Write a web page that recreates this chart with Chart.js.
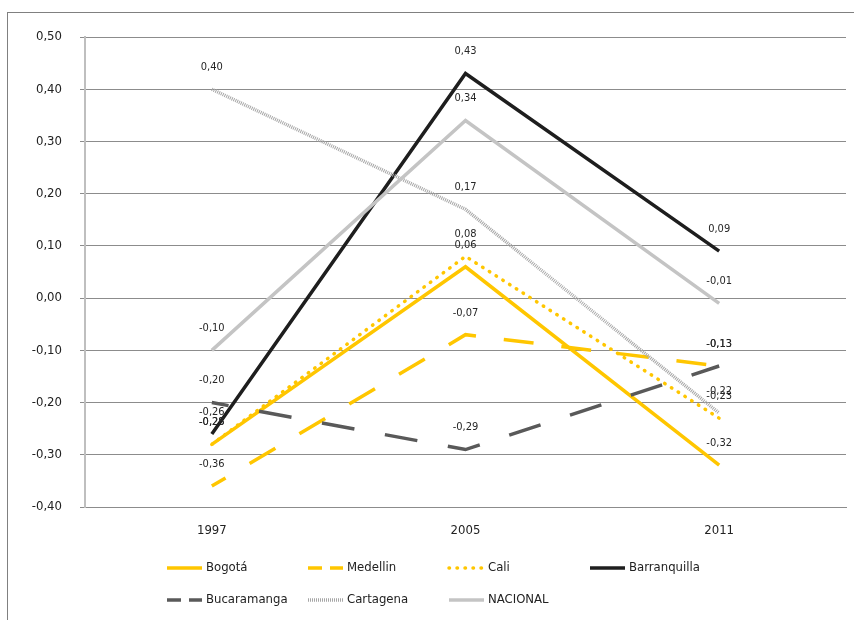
<!DOCTYPE html>
<html>
<head>
<meta charset="utf-8">
<script src="https://cdn.jsdelivr.net/npm/chart.js@4.4.1/dist/chart.umd.min.js"></script>
<style>
  body { margin: 0; background: #fff; }
  #wrap { position: relative; width: 854px; height: 620px; overflow: hidden; background: #fff; }
  #frame { position: absolute; left: 7px; top: 12px; right: -10px; bottom: -10px;
           border-left: 1px solid #808080; border-top: 1px solid #808080; }
  #grafico { position: absolute; left: 0; top: 0; }
</style>
</head>
<body>
<div id="wrap">
  <div id="frame"></div>
  <canvas id="grafico" width="854" height="620"></canvas>
</div>
<script>
// datos
const years = ['1997', '2005', '2011'];
const seriesNames = ['Bogotá', 'Medellin', 'Cali', 'Barranquilla', 'Bucaramanga', 'Cartagena', 'NACIONAL'];
const bogota = [-0.28, 0.06, -0.32];
const medellin = [-0.36, -0.07, -0.13];
const cali = [-0.28, 0.08, -0.23];
const barranquilla = [-0.26, 0.43, 0.09];
const bucaramanga = [-0.20, -0.29, -0.13];
const cartagena = [0.40, 0.17, -0.22];
const nacional = [-0.10, 0.34, -0.01];

const FONT = '"Liberation Sans Narrow", "DejaVu Sans Condensed", "Roboto", sans-serif';

function fmt(v) {
    return v.toFixed(2).replace('.', ',');
}

// etiquetas de valor encima de cada punto
const valueLabels = {
    id: 'valueLabels',
    afterDatasetsDraw(chart) {
        const ctx = chart.ctx;
        ctx.save();
        ctx.font = '11px ' + FONT;
        ctx.fillStyle = '#262626';
        ctx.textAlign = 'center';
        ctx.textBaseline = 'middle';
        chart.data.datasets.forEach((ds, i) => {
            const meta = chart.getDatasetMeta(i);
            meta.data.forEach((pt, j) => {
                ctx.fillText(fmt(ds.data[j]), pt.x, pt.y - 22);
            });
        });
        ctx.restore();
    }
};

// leyenda en cuadrícula de 4 columnas
const gridLegend = {
    id: 'gridLegend',
    afterDraw(chart) {
        const ctx = chart.ctx;
        ctx.save();
        ctx.font = '13px ' + FONT;
        ctx.textBaseline = 'middle';
        chart.data.datasets.forEach((ds, i) => {
            const x0 = 167 + (i % 4) * 141;
            const y = 568 + Math.floor(i / 4) * 32;
            ctx.strokeStyle = ds.borderColor;
            ctx.lineWidth = ds.borderWidth;
            ctx.lineCap = ds.borderCapStyle || 'butt';
            ctx.setLineDash(ds.legendDash || ds.borderDash || []);
            ctx.beginPath();
            ctx.moveTo(x0, y);
            ctx.lineTo(x0 + 35, y);
            ctx.stroke();
            ctx.setLineDash([]);
            ctx.fillStyle = '#222';
            ctx.fillText(ds.label, x0 + 39, y);
        });
        ctx.restore();
    }
};

const yellow = '#FFC600';

const datasets = [
    { label: seriesNames[0], data: bogota, borderColor: yellow, borderWidth: 3.5 },
    { label: seriesNames[1], data: medellin, borderColor: yellow, borderWidth: 3.5, borderDash: [30, 28], borderDashOffset: 14, legendDash: [14, 8] },
    { label: seriesNames[2], data: cali, borderColor: yellow, borderWidth: 3.5, borderDash: [0.5, 7.5], borderCapStyle: 'round', legendDash: [0.5, 7.5] },
    { label: seriesNames[3], data: barranquilla, borderColor: '#1e1e1e', borderWidth: 3.5 },
    { label: seriesNames[4], data: bucaramanga, borderColor: '#595959', borderWidth: 3.5, borderDash: [33, 31], borderDashOffset: 16, legendDash: [14, 8] },
    { label: seriesNames[5], data: cartagena, borderColor: '#a6a6a6', borderWidth: 3.5, borderDash: [1, 1] },
    { label: seriesNames[6], data: nacional, borderColor: '#c4c4c4', borderWidth: 3.5 }
];
datasets.forEach((ds, i) => {
    ds.order = datasets.length - i;
    ds.pointRadius = 0;
    ds.tension = 0;
    ds.fill = false;
});

new Chart(document.getElementById('grafico'), {
    type: 'line',
    data: { labels: years, datasets: datasets },
    options: {
        responsive: false,
        animation: false,
        layout: { padding: { top: 37, right: 8, left: 0, bottom: 0 } },
        plugins: {
            legend: { display: false },
            tooltip: { enabled: false }
        },
        scales: {
            x: {
                offset: true,
                grid: { display: false, drawTicks: false },
                border: { color: '#8c8c8c', width: 1 },
                ticks: { color: '#222', font: { family: FONT, size: 13 }, padding: 16 },
                afterFit: s => { s.height = 113; }
            },
            y: {
                min: -0.4,
                max: 0.5,
                ticks: {
                    stepSize: 0.1,
                    color: '#222',
                    font: { family: FONT, size: 13 },
                    padding: 18,
                    callback: v => fmt(v)
                },
                grid: { color: '#8c8c8c', tickLength: 5 },
                border: { color: '#bfbfbf', width: 2 },
                afterFit: s => { s.width = 85; }
            }
        }
    },
    plugins: [valueLabels, gridLegend]
});
</script>
</body>
</html>
